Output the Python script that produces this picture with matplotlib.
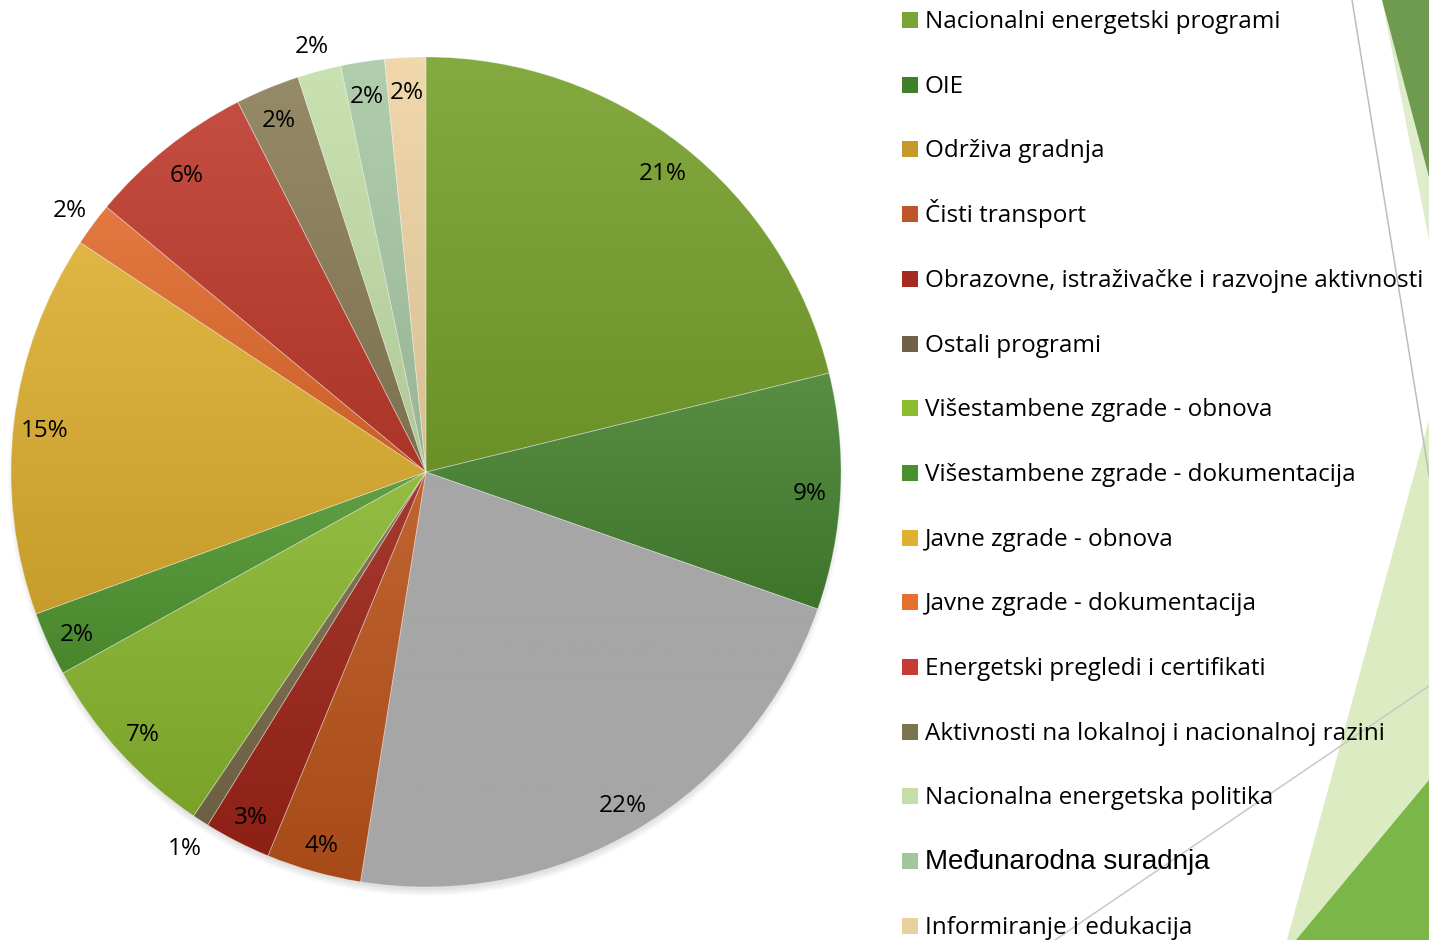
import numpy as np
import matplotlib.pyplot as plt
from matplotlib.colors import to_rgb
from matplotlib.patches import Polygon, Rectangle, Circle

# podaci (udjeli procitani sa slike, smjer kazaljke od vrha)
kategorije = [
    'Nacionalni energetski programi',
    'OIE',
    'Održiva gradnja',
    'Čisti transport',
    'Obrazovne, istraživačke i razvojne aktivnosti',
    'Ostali programi',
    'Višestambene zgrade - obnova',
    'Višestambene zgrade - dokumentacija',
    'Javne zgrade - obnova',
    'Javne zgrade - dokumentacija',
    'Energetski pregledi i certifikati',
    'Aktivnosti na lokalnoj i nacionalnoj razini',
    'Nacionalna energetska politika',
    'Međunarodna suradnja',
    'Informiranje i edukacija',
]
udjeli = [21.2, 9.2, 22.2, 3.7, 2.6, 0.65, 7.5, 2.5, 14.9, 1.7, 6.5, 2.5, 1.7, 1.7, 1.6]
boje = ['#76a02c', '#458230', '#a6a6a6', '#b9531b', '#9c2417', '#786a49', '#88b52e', '#4f9530',
        '#dcae30', '#e06a2c', '#be3a2c', '#8a7d57', '#c4dea8', '#a8c8a5', '#efd4a3']
boje_legende = ['#7aa33a', '#3f7f2a', '#c59a2a', '#c0552a', '#a52a1f', '#6e6249', '#8cbb2f', '#4a9030',
                '#e0b030', '#e5702f', '#c83a33', '#7d7352', '#c4dea8', '#a3c6a0', '#ecd09c']
vani = [5, 9, 12]  # oznake izvan kruga

fig = plt.figure(figsize=(14.29, 9.40), dpi=100)
ax = fig.add_axes([0, 0, 1, 1])

# ukrasi u pozadini (desni rub slajda)
ax.add_patch(Polygon([(1382, 940), (1429, 940), (1429, 700)], color='#dfedcc', lw=0, zorder=0))
ax.add_patch(Polygon([(1382, 940), (1429, 940), (1429, 763)], color='#6f9b50', lw=0, zorder=0))
ax.add_patch(Polygon([(1287, 0), (1429, 520), (1429, 0)], color='#dcebc2', lw=0, zorder=0))
ax.add_patch(Polygon([(1296, 0), (1429, 160), (1429, 0)], color='#7ab648', lw=0, zorder=0))
ax.plot([1352, 1429], [940, 465], color='#bdbdbd', lw=1.1, zorder=0.5)
ax.plot([1055, 1429], [0, 254], color='#c8c8c8', lw=1.1, zorder=0.5)

cx, cy, r = 426, 468, 415

# sjena ispod kruga
for k in range(8):
    ax.add_patch(Circle((cx, cy - 6), r + 3 - k, color='k', alpha=0.015, lw=0, zorder=1))

wedges, _ = ax.pie(udjeli, colors=boje, startangle=90, counterclock=False,
                   center=(cx, cy), radius=r, frame=False,
                   wedgeprops=dict(linewidth=0.6, edgecolor=(1, 1, 1, 0.3)))

# gradijent po isjecku (svjetlije gore, tamnije dolje)
g = np.linspace(0, 1, 256)[:, None, None]
for w, c in zip(wedges, boje):
    base = np.array(to_rgb(c))
    jacina = 0.0 if np.ptp(base) < 0.01 else 1.0
    top = base + (1 - base) * 0.1 * jacina
    bot = base * (1 - 0.1 * jacina)
    img = top * (1 - g) + bot * g
    x0, y0, x1, y1 = w.get_path().get_extents().extents
    im = ax.imshow(img, extent=(x0, x1, y0, y1), origin='upper', aspect='auto',
                   interpolation='bilinear', zorder=2)
    im.set_clip_path(w)
    w.set_facecolor('none')
    w.set_zorder(3)

ukupno = sum(udjeli)
for i, w in enumerate(wedges):
    kut = np.deg2rad((w.theta1 + w.theta2) / 2)
    d = 1.07 if i in vani else 0.925
    ax.text(cx + d * r * np.cos(kut), cy + d * r * np.sin(kut) - 4,
            f'{udjeli[i] / ukupno * 100:.0f}%', ha='center', va='center',
            fontsize=17.5, family=['Open Sans', 'DejaVu Sans'], color='black', zorder=4)

# legenda
for i, (naziv, boja) in enumerate(zip(kategorije, boje_legende)):
    y = 940 - (28 + i * 64.7)
    ax.add_patch(Rectangle((902, y), 16, 16, color=boja, lw=0, zorder=5))
    if naziv.startswith('Međ'):
        ax.text(925, y, naziv, ha='left', va='baseline', fontsize=20,
                family=['Liberation Sans'], zorder=5)
    else:
        ax.text(925, y, naziv, ha='left', va='baseline', fontsize=17.5,
                family=['Open Sans', 'DejaVu Sans'], zorder=5)

ax.set_xlim(0, 1429)
ax.set_ylim(0, 940)
ax.set_aspect('auto')
ax.axis('off')

plt.savefig('out.png', dpi=100)
